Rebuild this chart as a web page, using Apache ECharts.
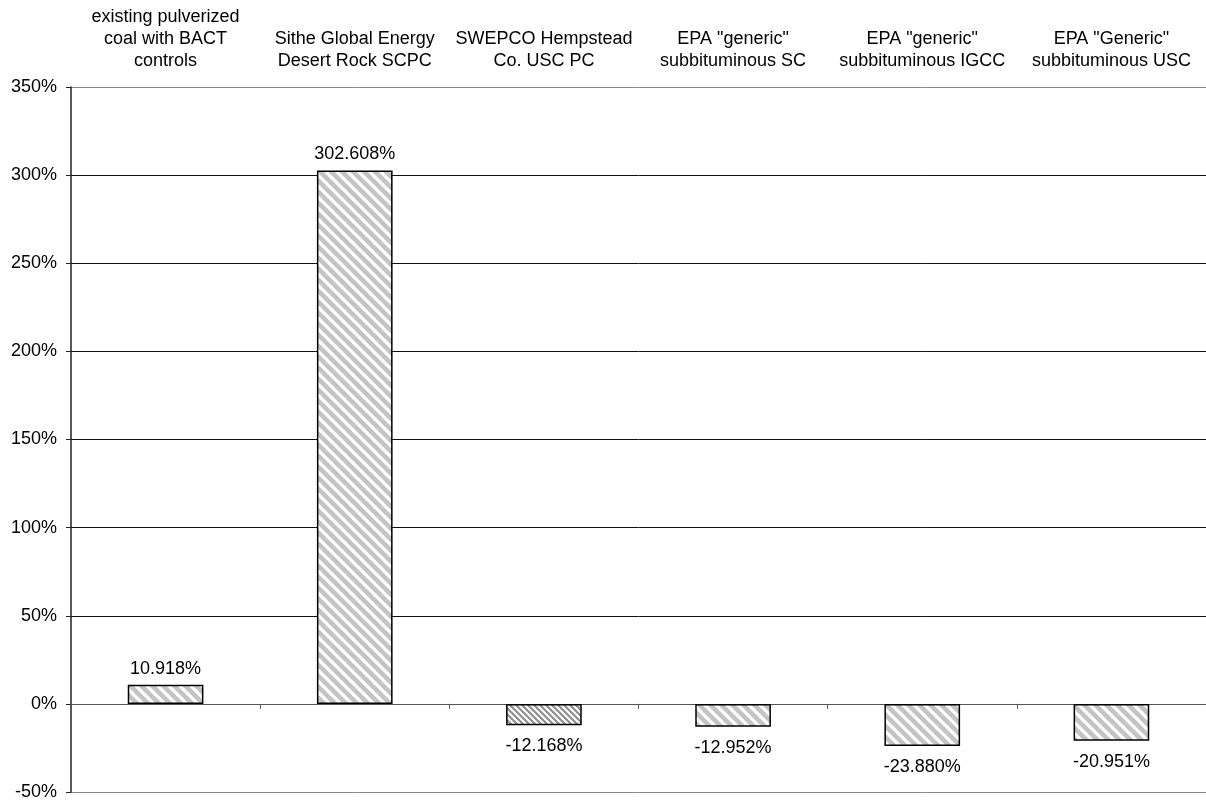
<!DOCTYPE html>
<html>
<head>
<meta charset="utf-8">
<script src="https://cdn.jsdelivr.net/npm/echarts@6/dist/echarts.min.js"></script>
<style>
html,body{margin:0;padding:0;background:#fff;}
#chart{width:1206px;height:802px;}
</style>
</head>
<body>
<div id="chart"></div>
<script>
const categories = [
  'existing pulverized\ncoal with BACT\ncontrols',
  'Sithe Global Energy\nDesert Rock SCPC',
  'SWEPCO Hempstead\nCo. USC PC',
  'EPA "generic"\nsubbituminous SC',
  'EPA "generic"\nsubbituminous IGCC',
  'EPA "Generic"\nsubbituminous USC'
];
const values = [10.918, 302.608, -12.168, -12.952, -23.880, -20.951];
const yTicks = { min: -50, max: 350, interval: 50 };

function makePattern(size, bg, fg, lw) {
  const c = document.createElement('canvas');
  c.width = size; c.height = size;
  const ctx = c.getContext('2d');
  ctx.fillStyle = bg;
  ctx.fillRect(0, 0, size, size);
  ctx.strokeStyle = fg;
  ctx.lineWidth = lw;
  for (let k = -1; k <= 1; k++) {
    ctx.beginPath();
    ctx.moveTo(k * size - size, -size);
    ctx.lineTo(k * size + 2 * size, 2 * size);
    ctx.stroke();
  }
  return { image: c, repeat: 'repeat' };
}
const lightHatch = makePattern(11, '#c4c4c4', '#ffffff', 3.2);
const darkHatch = makePattern(6, '#8f8f8f', '#ffffff', 2);

const FONT = '"Liberation Sans", Arial, Helvetica, sans-serif';

const chart = echarts.init(document.getElementById('chart'));
const seriesData = values.map((v, i) => ({
  value: v,
  itemStyle: { color: i === 2 ? darkHatch : lightHatch },
  label: { position: v >= 0 ? 'top' : 'bottom', distance: v >= 0 ? 7 : 12 }
}));

chart.setOption({
  animation: false,
  backgroundColor: '#fff',
  grid: { left: 71, right: -5, top: 87, bottom: 10, containLabel: false },
  xAxis: [
    {
      type: 'category',
      data: categories,
      position: 'bottom',
      axisLine: { onZero: true, lineStyle: { color: '#555', width: 1 } },
      axisTick: { show: true, length: 5, lineStyle: { color: '#555' } },
      axisLabel: { show: false },
      splitLine: { show: false }
    },
    {
      type: 'category',
      data: categories,
      position: 'top',
      axisLine: { show: false },
      axisTick: { show: false },
      axisLabel: {
        interval: 0,
        margin: 15,
        fontSize: 18,
        lineHeight: 22,
        color: '#000',
        fontFamily: FONT,
        align: 'center'
      }
    }
  ],
  yAxis: {
    type: 'value',
    min: yTicks.min,
    max: yTicks.max,
    interval: yTicks.interval,
    axisLine: { show: true, lineStyle: { color: '#222', width: 1.5 } },
    axisTick: { show: true, length: 5, lineStyle: { color: '#222' } },
    axisLabel: {
      formatter: '{value}%',
      fontSize: 18,
      color: '#000',
      fontFamily: FONT,
      margin: 14
    },
    splitLine: {
      show: true,
      lineStyle: {
        color: ['#888', '#111', '#111', '#111', '#111', '#111', '#111', '#111', '#888'],
        width: 1
      }
    }
  },
  series: [{
    type: 'bar',
    xAxisIndex: 0,
    data: seriesData,
    barWidth: '40%',
    itemStyle: { borderColor: '#000', borderWidth: 1.5 },
    label: {
      show: true,
      fontSize: 18,
      color: '#000',
      fontFamily: FONT,
      formatter: p => p.value.toFixed(3) + '%'
    }
  }]
});
</script>
</body>
</html>
